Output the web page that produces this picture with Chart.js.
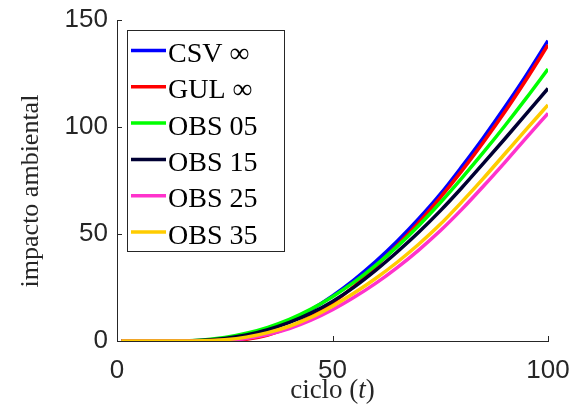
<!DOCTYPE html>
<html>
<head>
<meta charset="utf-8">
<script src="https://cdn.jsdelivr.net/npm/chart.js@4.4.1/dist/chart.umd.min.js"></script>
<style>
  html, body { margin: 0; padding: 0; background: #ffffff; }
  #wrap { width: 572px; height: 410px; position: relative; }
</style>
</head>
<body>
<div id="wrap"><canvas id="c" width="572" height="410"></canvas></div>
<script>
// cycle values (x) shared by every series
const ciclo = [1, 5, 10, 15, 20, 25, 30, 35, 40, 45, 50, 55, 60, 65, 70, 75, 80, 85, 90, 95, 100];

// environmental impact per strategy
const csvInf = [0, 0, 0, 0, 0.05, 0.4, 2.1, 5.1, 9.3, 14.6, 21.1, 28.6, 37.1, 46.6, 57.1, 68.6, 81.5, 95.0, 109.3, 124.3, 140.3];
const gulInf = [0, 0, 0, 0, 0, 0.2, 0.8, 2.8, 6.5, 11.6, 17.8, 25.6, 34.8, 44.6, 55.3, 67.0, 79.5, 92.9, 107.1, 122.3, 138.3];
const obs05  = [0, 0, 0, 0.1, 0.5, 1.6, 3.6, 6.4, 10.1, 14.9, 20.7, 27.5, 35.3, 44.1, 53.9, 64.6, 76.1, 88.1, 100.6, 113.6, 127.1];
const obs15  = [0, 0, 0, 0, 0.3, 1.2, 2.8, 5.3, 8.7, 13.0, 18.5, 25.2, 33.0, 41.6, 50.8, 60.8, 71.6, 83.0, 94.5, 106.2, 118.0];
const obs25  = [0, 0, 0, 0, 0, 0.3, 1.2, 3.0, 5.8, 9.7, 14.6, 20.4, 26.9, 34.3, 42.5, 51.5, 61.5, 72.3, 83.5, 95.0, 106.4];
const obs35  = [0, 0, 0, 0, 0.1, 0.6, 1.8, 3.9, 6.9, 11.0, 16.3, 22.4, 29.2, 36.8, 45.2, 54.5, 65.0, 76.0, 87.5, 99.0, 110.3];

const seriesNames = ['CSV \u221E', 'GUL \u221E', 'OBS 05', 'OBS 15', 'OBS 25', 'OBS 35'];
const seriesValues = [csvInf, gulInf, obs05, obs15, obs25, obs35];
const seriesColors = ['#0000ff', '#ff0000', '#00ff00', '#000033', '#ff33cc', '#ffcc00'];

const xTicks = [0, 50, 100];
const yTicks = [0, 50, 100, 150];

const AXIS = '#262626';
const SANS = '"Liberation Sans", Arial, Helvetica, sans-serif';
const SERIF = '"Liberation Serif", "Times New Roman", "DejaVu Serif", serif';

const datasets = seriesNames.map((name, i) => ({
  label: name,
  data: ciclo.map((t, k) => ({ x: t, y: seriesValues[i][k] })),
  borderColor: seriesColors[i],
  backgroundColor: seriesColors[i],
  borderWidth: 3.5,
  pointRadius: 0,
  fill: false,
  cubicInterpolationMode: 'monotone',
  // later series are painted over earlier ones
  order: seriesNames.length - i
}));

// short tick marks pointing into the plot area
const innerTicks = {
  id: 'innerTicks',
  beforeDatasetsDraw(chart) {
    const { ctx, chartArea: a, scales: { x, y } } = chart;
    ctx.save();
    ctx.strokeStyle = AXIS;
    ctx.lineWidth = 1;
    ctx.beginPath();
    xTicks.forEach(v => {
      const px = Math.round(x.getPixelForValue(v)) + 0.5;
      ctx.moveTo(px, a.bottom);
      ctx.lineTo(px, a.bottom - 5);
    });
    yTicks.forEach(v => {
      const py = Math.round(y.getPixelForValue(v)) + 0.5;
      ctx.moveTo(a.left, py);
      ctx.lineTo(a.left + 5, py);
    });
    ctx.stroke();
    ctx.restore();
  }
};

// legend box in the upper-left corner of the plot, plus the axis titles
const overlay = {
  id: 'overlay',
  afterDatasetsDraw(chart) {
    const { ctx, chartArea: a } = chart;
    ctx.save();

    // legend frame
    const bx = 127.5, by = 30.5, bw = 157, bh = 221;
    ctx.fillStyle = '#ffffff';
    ctx.fillRect(bx, by, bw, bh);
    ctx.strokeStyle = AXIS;
    ctx.lineWidth = 1;
    ctx.strokeRect(bx, by, bw, bh);

    ctx.font = '28px ' + SERIF;
    ctx.textAlign = 'left';
    ctx.textBaseline = 'alphabetic';
    chart.data.datasets.forEach((ds, i) => {
      const rowY = 50.5 + i * 36.3;
      ctx.strokeStyle = ds.borderColor;
      ctx.lineWidth = 3.5;
      ctx.beginPath();
      ctx.moveTo(131, rowY);
      ctx.lineTo(166, rowY);
      ctx.stroke();
      ctx.fillStyle = '#000000';
      ctx.fillText(ds.label, 168, rowY + 11.5);
    });

    // x title: "ciclo (t)" with an italic t
    const parts = [
      { s: 'ciclo (', f: '27px ' + SERIF },
      { s: 't', f: 'italic 27px ' + SERIF },
      { s: ')', f: '27px ' + SERIF }
    ];
    let total = 0;
    parts.forEach(p => { ctx.font = p.f; p.w = ctx.measureText(p.s).width; total += p.w; });
    let cx = (a.left + a.right) / 2 - total / 2;
    ctx.fillStyle = AXIS;
    parts.forEach(p => { ctx.font = p.f; ctx.fillText(p.s, cx, 398); cx += p.w; });

    // y title
    ctx.translate(31, 191);
    ctx.rotate(-Math.PI / 2);
    ctx.font = '26px ' + SERIF;
    ctx.textAlign = 'center';
    ctx.textBaseline = 'middle';
    ctx.fillText('impacto ambiental', 0, 0);

    ctx.restore();
  }
};

new Chart(document.getElementById('c'), {
  type: 'line',
  data: { datasets },
  options: {
    responsive: false,
    animation: false,
    devicePixelRatio: 1,
    layout: { padding: { left: 0, top: 20, right: 24, bottom: 0 } },
    plugins: { legend: { display: false }, tooltip: { enabled: false } },
    scales: {
      x: {
        type: 'linear',
        min: 0,
        max: 100,
        afterBuildTicks(s) { s.ticks = xTicks.map(v => ({ value: v })); },
        afterFit(s) { s.height = 69; s.paddingLeft = 0; s.paddingRight = 0; },
        ticks: { color: AXIS, font: { family: SANS, size: 26 }, padding: 14, maxRotation: 0 },
        grid: { display: false, drawTicks: false },
        border: { display: true, color: AXIS, width: 1 }
      },
      y: {
        type: 'linear',
        min: 0,
        max: 150,
        afterBuildTicks(s) { s.ticks = yTicks.map(v => ({ value: v })); },
        afterFit(s) { s.width = 117; s.paddingTop = 0; s.paddingBottom = 0; },
        ticks: { color: AXIS, font: { family: SANS, size: 26 }, padding: 9 },
        grid: { display: false, drawTicks: false },
        border: { display: true, color: AXIS, width: 1 }
      }
    }
  },
  plugins: [innerTicks, overlay]
});
</script>
</body>
</html>
